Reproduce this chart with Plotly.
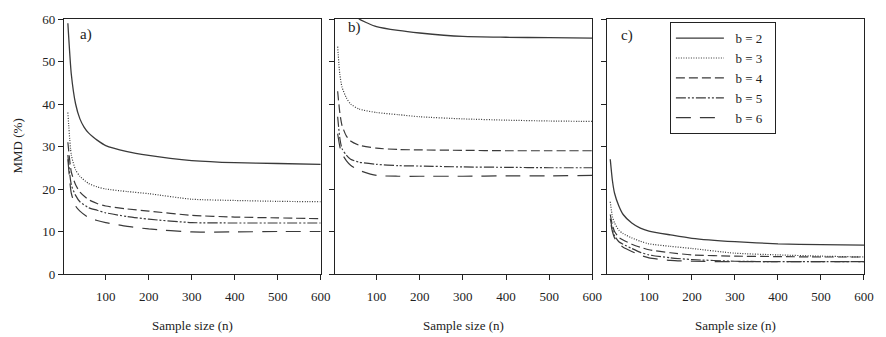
import plotly.graph_objects as go

# ---------------- data ----------------
series_names = ["b = 2", "b = 3", "b = 4", "b = 5", "b = 6"]

# panel a
a_n2 = [12, 20, 30, 40, 50, 60, 70, 80, 100, 150, 200, 250, 300, 400, 500, 600]
a_v2 = [59, 47, 40, 36.5, 34.5, 33.2, 32.3, 31.5, 30.2, 28.8, 27.9, 27.2, 26.7, 26.2, 26.0, 25.8]
a_n = [12, 20, 30, 40, 60, 80, 100, 150, 200, 300, 400, 500, 600]
a_v3 = [38, 28, 24.5, 23, 21.3, 20.5, 20, 19.4, 18.9, 17.6, 17.3, 17.1, 17.0]
a_v4 = [31, 24, 21, 19.3, 17.5, 16.6, 16, 15.3, 14.8, 13.8, 13.4, 13.2, 13.0]
a_v5 = [28, 21, 18.5, 17, 15.6, 15, 14.4, 13.5, 12.9, 12.1, 12.0, 12.0, 12.0]
a_v6 = [27, 19, 16, 14.8, 13.3, 12.6, 12.1, 11.2, 10.6, 9.9, 9.9, 10.0, 10.0]

# panel b
b_n2 = [12, 20, 30, 40, 60, 80, 100, 150, 200, 300, 400, 500, 600]
b_v2 = [85, 72, 66, 63, 60, 59, 58.2, 57.3, 56.7, 55.9, 55.7, 55.6, 55.5]
b_n = [10, 15, 20, 30, 40, 60, 100, 150, 200, 300, 400, 500, 600]
b_v3 = [53.5, 47, 44, 41.5, 40, 38.8, 38, 37.5, 37, 36.5, 36.2, 36, 35.9]
b_v4 = [43, 38, 35, 32.5, 31.3, 30.3, 29.6, 29.3, 29.2, 29.1, 29.0, 29.0, 29.0]
b_v5 = [37, 32, 29.5, 28, 27, 26.3, 25.8, 25.5, 25.4, 25.2, 25.1, 25.0, 25.0]
b_v6 = [33, 30, 28.3, 26.7, 25.6, 24.4, 23.2, 23.0, 23.0, 23.0, 23.1, 23.1, 23.2]

# panel c
c_n = [10, 15, 20, 30, 40, 60, 80, 100, 150, 200, 300, 400, 500, 600]
c_v2 = [27, 22, 19, 16, 14, 12, 10.8, 10.1, 9.2, 8.4, 7.6, 7.1, 6.9, 6.8]
c_v3 = [17, 13.5, 12, 10.3, 9.5, 8.5, 7.7, 7.1, 6.5, 6.0, 4.9, 4.5, 4.2, 4.0]
c_v4 = [14, 11.5, 10, 8.6, 8, 7, 6.3, 5.7, 5.0, 4.5, 4.2, 4.1, 4.0, 4.0]
c_v5 = [13, 10.5, 9, 7.6, 7, 6, 5.1, 4.5, 3.8, 3.4, 3.0, 2.9, 2.9, 2.9]
c_n6 = [12, 15, 20, 30, 40, 60, 80, 100, 150, 200, 300, 400, 500, 600]
c_v6 = [11.5, 10, 8.5, 7, 6.3, 5.3, 4.4, 3.8, 3.2, 3.0, 2.9, 2.9, 2.9, 2.9]

x_ticks = [100, 200, 300, 400, 500, 600]
y_ticks = [0, 10, 20, 30, 40, 50, 60]
panel_labels = ["a)", "b)", "c)"]

# ---------------- styles ----------------
dashes = ["solid", "1px,1.5px", "9px,4px", "10px,2px,2px,2px,2px,2px", "15px,9px"]
widths = [1.3, 1.2, 1.2, 1.2, 1.2]
line_col = "#3a3a3a"
FONT = "Liberation Serif"

panels = [
    [(a_n2, a_v2), (a_n, a_v3), (a_n, a_v4), (a_n, a_v5), (a_n, a_v6)],
    [(b_n2, b_v2), (b_n, b_v3), (b_n, b_v4), (b_n, b_v5), (b_n, b_v6)],
    [(c_n, c_v2), (c_n, c_v3), (c_n, c_v4), (c_n, c_v5), (c_n6, c_v6)],
]

fig = go.Figure()
for p, series in enumerate(panels):
    xa = "x" if p == 0 else f"x{p+1}"
    ya = "y" if p == 0 else f"y{p+1}"
    for s, (xs, ys) in enumerate(series):
        fig.add_trace(go.Scatter(
            x=xs, y=ys, mode="lines", xaxis=xa, yaxis=ya,
            name="\u2002" + series_names[s] + "\u2002", showlegend=(p == 2),
            line=dict(color=line_col, width=widths[s], dash=dashes[s], shape="spline", smoothing=0.6),
        ))

W, H = 886, 337
ml, mr, mt, mb = 64, 15, 15, 63
pw = W - ml - mr
ph = H - mt - mb
doms = [(0, (323 - 64) / pw), ((337 - 64) / pw, (597 - 64) / pw), ((612 - 64) / pw, 1.0)]

axis_common = dict(showline=True, linecolor="#222", linewidth=1.2, mirror=True,
                   showgrid=False, zeroline=False, ticks="outside", ticklen=5,
                   tickcolor="#222", tickfont=dict(family=FONT, size=13, color="#222"))

layout = dict(
    width=W, height=H, margin=dict(l=ml, r=mr, t=mt, b=mb),
    plot_bgcolor="white", paper_bgcolor="white",
    font=dict(family=FONT, color="#222"),
    legend=dict(x=(675 - ml) / pw, y=1 - (18 - mt) / ph, xanchor="left", yanchor="top",
                bordercolor="#222", borderwidth=1.2, bgcolor="white",
                font=dict(family=FONT, size=13, color="#222"), itemwidth=48,
                tracegroupgap=0),
)
annotations = []
for p in range(3):
    k = "" if p == 0 else str(p + 1)
    layout["xaxis" + k] = dict(axis_common, domain=list(doms[p]), range=[3, 600],
                               tickvals=x_ticks, ticklabelstandoff=5,
                               anchor="y" + k)
    layout["yaxis" + k] = dict(axis_common, range=[0, 60], tickvals=y_ticks,
                               showticklabels=(p == 0),
                               anchor="x" + k)
    annotations.append(dict(text="Sample size (n)", xref="x" + k + " domain", yref="paper",
                            x=0.5, y=0, yshift=-51, xanchor="center", yanchor="middle",
                            showarrow=False, font=dict(family=FONT, size=13, color="#222")))
label_pos = [(0.055, 0.94), (0.045, 0.965), (0.045, 0.935)]
for p in range(3):
    k = "" if p == 0 else str(p + 1)
    annotations.append(dict(text=panel_labels[p], xref="x" + k + " domain", yref="y" + k + " domain",
                            x=label_pos[p][0], y=label_pos[p][1], xanchor="left", yanchor="middle",
                            showarrow=False, font=dict(family=FONT, size=15, color="#222")))
annotations.append(dict(text="MMD (%)", xref="paper", yref="paper", x=0, y=0.5, xshift=-47,
                        xanchor="center", yanchor="middle",
                        textangle=-90, showarrow=False, font=dict(family=FONT, size=13, color="#222")))
layout["annotations"] = annotations
fig.update_layout(**layout)

fig.write_html("out.html")
